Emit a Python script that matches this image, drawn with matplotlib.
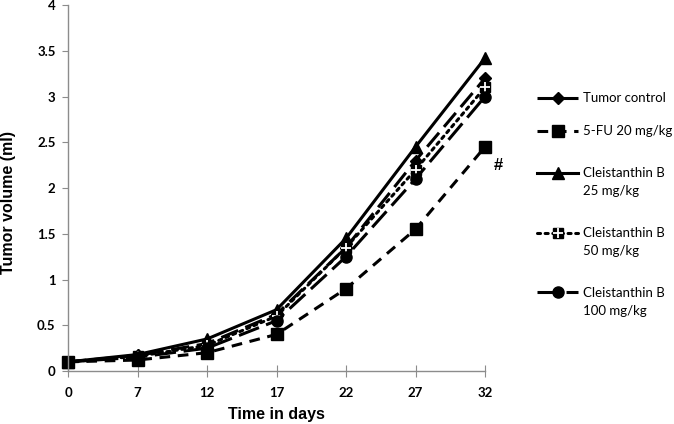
import matplotlib.pyplot as plt
from matplotlib.legend import Legend
from matplotlib.legend_handler import HandlerTuple

plt.rcParams['font.family'] = ['Lato', 'DejaVu Sans']

# data
days = ['0', '7', '12', '17', '22', '27', '32']
tumor_control = [0.10, 0.17, 0.30, 0.62, 1.35, 2.30, 3.20]
fu_20 = [0.10, 0.12, 0.20, 0.40, 0.90, 1.55, 2.45]
cb_25 = [0.10, 0.18, 0.35, 0.67, 1.45, 2.45, 3.42]
cb_50 = [0.10, 0.16, 0.28, 0.60, 1.35, 2.20, 3.10]
cb_100 = [0.10, 0.15, 0.25, 0.55, 1.25, 2.10, 3.00]
y_ticks = [0, 0.5, 1, 1.5, 2, 2.5, 3, 3.5, 4]
y_ticklabels = ['0', '0.5', '1', '1.5', '2', '2.5', '3', '3.5', '4']

fig = plt.figure(figsize=(6.74, 4.24), dpi=100)
ax = fig.add_axes([0.1009, 0.125, 0.6187, 0.863])
x = range(len(days))

l1, = ax.plot(x, tumor_control, color='black', lw=2.2, linestyle=(0, (6, 2.5)),
              marker='D', ms=6, label='Tumor control')
l2, = ax.plot(x, fu_20, color='black', lw=2.2, linestyle=(0, (3.5, 2.5)),
              marker='s', ms=8, label='5-FU 20 mg/kg')
l3, = ax.plot(x, cb_25, color='black', lw=2.2, linestyle='-',
              marker='^', ms=8, label='Cleistanthin B\n25 mg/kg')
l4, = ax.plot(x, cb_50, color='black', lw=2.2, linestyle=(0, (1, 1.5)),
              dash_capstyle='round', marker='s', ms=7, label='Cleistanthin B\n50 mg/kg')
l4b, = ax.plot(x, cb_50, linestyle='none', marker='+', ms=7, mew=1.3, color='white')
l5, = ax.plot(x, cb_100, color='black', lw=2.2, linestyle=(0, (7, 2.5)),
              marker='o', ms=8, label='Cleistanthin B\n100 mg/kg')

ax.text(6.12, 2.2, '#', fontsize=12, fontweight='bold', family='Liberation Sans')

ax.set_xlim(0, 6)
ax.set_ylim(0, 4)
ax.set_xticks(list(x))
ax.set_xticklabels(days, fontweight='bold', fontsize=9.5)
ax.set_yticks(y_ticks)
ax.set_yticklabels(y_ticklabels, fontweight='bold', fontsize=9.5)
ax.tick_params(axis='x', direction='inout', length=9, color='#8c8c8c', pad=7)
ax.tick_params(axis='y', direction='out', length=4, color='#8c8c8c', pad=5)
for s in ['top', 'right']:
    ax.spines[s].set_visible(False)
for s in ['left', 'bottom']:
    ax.spines[s].set_color('#8c8c8c')
    ax.spines[s].set_linewidth(1)
ax.patch.set_visible(False)
for ln in ax.lines:
    ln.set_clip_on(False)

ax.set_xlabel('Time in days', fontweight='bold', fontsize=11.5, family='Liberation Sans', labelpad=6)
ax.set_ylabel('Tumor volume (ml)', fontweight='bold', fontsize=11.5, family='Liberation Sans')
ax.yaxis.set_label_coords(-0.125, 0.46)

# one legend per entry so each key sits where Excel put it
handles = [l1, l2, l3, (l4, l4b), l5]
labels = [l1.get_label(), l2.get_label(), l3.get_label(), l4.get_label(), l5.get_label()]
leg_tops = [0.762, 0.672, 0.557, 0.393, 0.230]
for h, lab, top in zip(handles, labels, leg_tops):
    leg = Legend(ax, [h], [lab], handler_map={tuple: HandlerTuple(ndivide=1)},
                 loc='upper left', bbox_to_anchor=(1.125, top), frameon=False,
                 fontsize=9.5, handlelength=3.1, handleheight=1.1, handletextpad=0.35,
                 borderpad=0, borderaxespad=0)
    for t in leg.get_texts():
        t.set_linespacing(1.6)
    # key next to the first line of the label
    for col in leg._legend_handle_box.get_children():
        for row in col.get_children():
            row.align = 'top'
    ax.add_artist(leg)

fig.savefig('out.png', dpi=100)
